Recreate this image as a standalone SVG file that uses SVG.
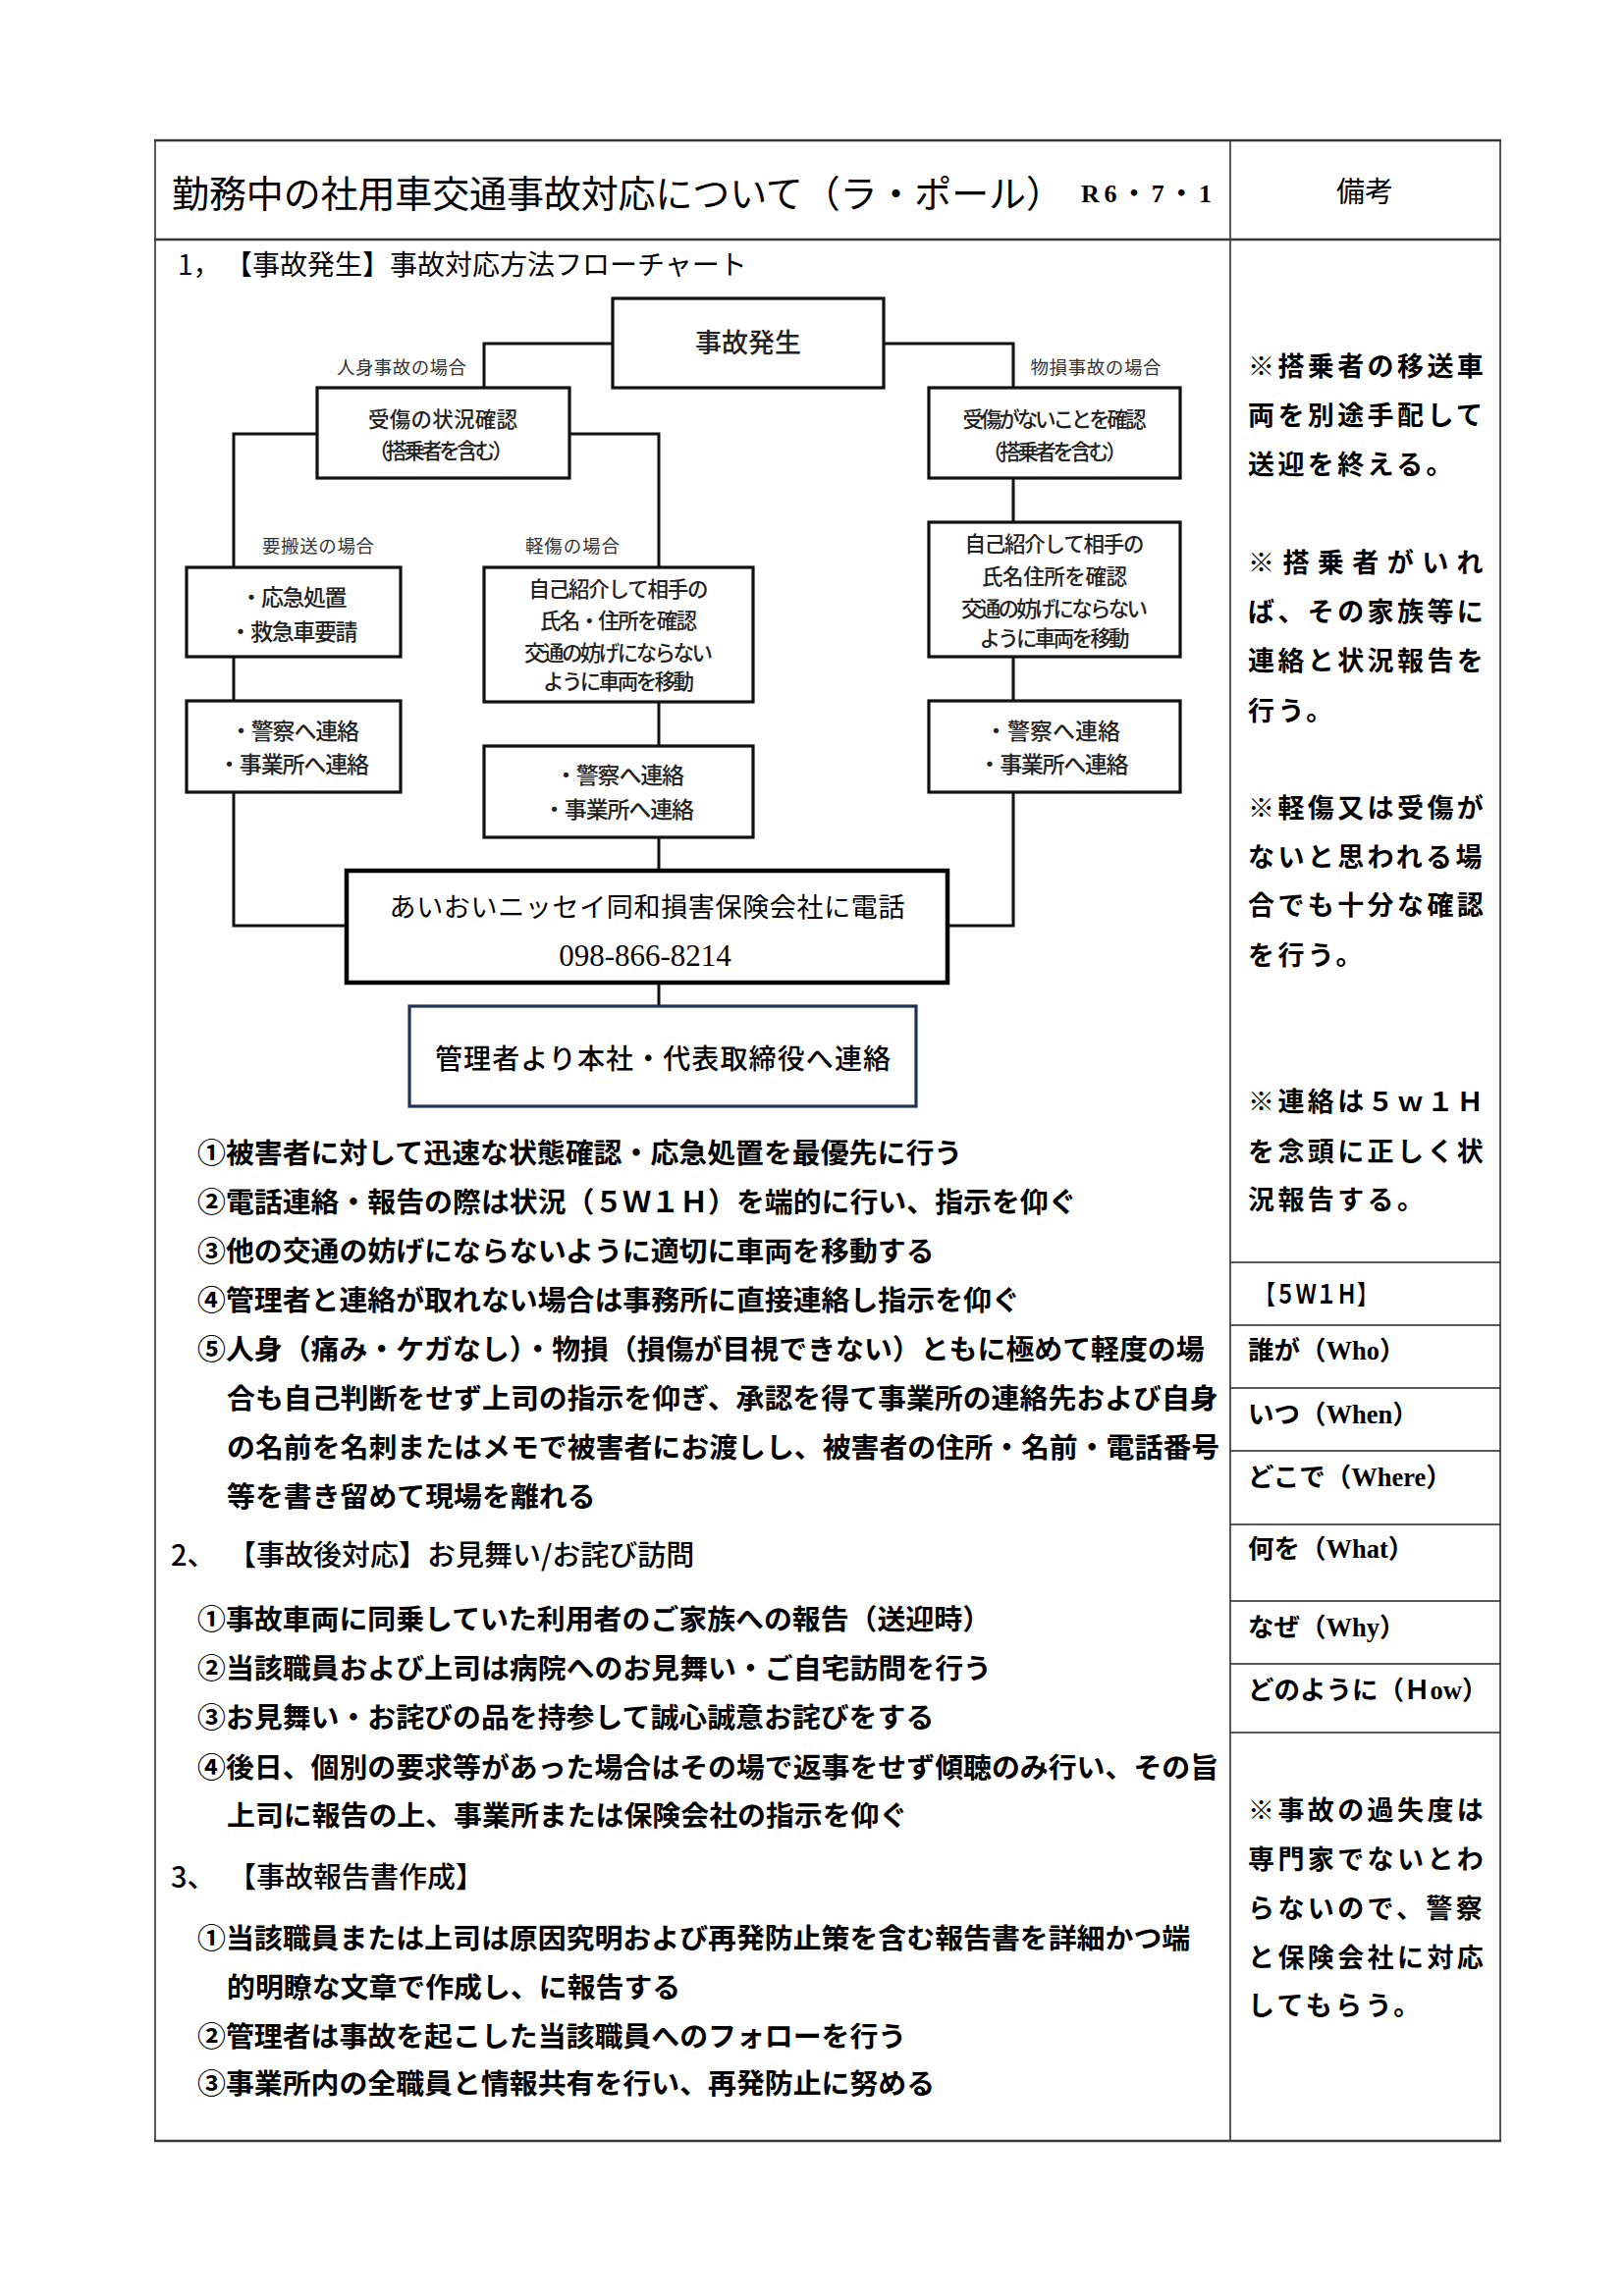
<svg xmlns="http://www.w3.org/2000/svg" width="1653" height="2339" viewBox="0 0 1653 2339">
<style>
text{font-family:"Noto Sans CJK JP",sans-serif;dominant-baseline:central;fill:#000}
.ser{font-family:"Liberation Serif","Noto Sans CJK JP",serif}
.box{fill:#fff;stroke:#111;stroke-width:3.2}
.conn{fill:none;stroke:#111;stroke-width:3}
.tbl{stroke:#222;stroke-width:1.5;fill:none}
.tblh{stroke:#3a3a3a;stroke-width:2.6;fill:none}
.lbl{font-size:18.5px;fill:#333;text-anchor:middle}
.bt{font-size:21.5px;font-weight:500;text-anchor:middle;fill:#222}
.bt2{font-size:23px;font-weight:500;text-anchor:middle;fill:#222}
.item{font-size:28.9px;font-weight:700}
.head{font-size:29px;font-weight:500}
.rem{font-size:27px;font-weight:700;letter-spacing:3.4px}
.w5{font-size:26.5px;font-weight:700}
</style>
<rect width="1653" height="2339" fill="#fff"/>

<g id="table">
<line class="tbl" x1="158" y1="143" x2="158" y2="2181"/>
<line class="tbl" x1="1253" y1="143" x2="1253" y2="2181"/>
<line class="tbl" x1="1528" y1="143" x2="1528" y2="2181"/>
<line class="tblh" x1="157" y1="143" x2="1529" y2="143"/>
<line class="tblh" x1="157" y1="244" x2="1529" y2="244"/>
<line class="tblh" x1="157" y1="2181" x2="1529" y2="2181"/>
<line class="tbl" x1="1253" y1="1286" x2="1528" y2="1286"/>
<line class="tbl" x1="1253" y1="1350" x2="1528" y2="1350"/>
<line class="tbl" x1="1253" y1="1414" x2="1528" y2="1414"/>
<line class="tbl" x1="1253" y1="1478" x2="1528" y2="1478"/>
<line class="tbl" x1="1253" y1="1553" x2="1528" y2="1553"/>
<line class="tbl" x1="1253" y1="1631" x2="1528" y2="1631"/>
<line class="tbl" x1="1253" y1="1695" x2="1528" y2="1695"/>
<line class="tbl" x1="1253" y1="1765" x2="1528" y2="1765"/>
</g>

<g id="header">
<text x="175" y="194" style="font-size:38px" textLength="908">勤務中の社用車交通事故対応について（ラ・ポール）</text>
<text class="ser" x="1101" y="197" style="font-size:26px;font-weight:700" textLength="133" lengthAdjust="spacing">R6・7・1</text>
<text x="1390" y="193" text-anchor="middle" style="font-size:29px">備考</text>
<text x="181" y="268" style="font-size:28px">1，<tspan x="229">【事故発生】事故対応方法フローチャート</tspan></text>
</g>

<g id="connectors">
<path class="conn" d="M624,350 H493 V395"/>
<path class="conn" d="M900,350 H1032 V395"/>
<path class="conn" d="M323,442 H238 V578"/>
<path class="conn" d="M580,442 H671 V578"/>
<path class="conn" d="M238,669 V714"/>
<path class="conn" d="M671,715 V760"/>
<path class="conn" d="M671,853 V887"/>
<path class="conn" d="M238,807 V943 H353"/>
<path class="conn" d="M1032,487 V532"/>
<path class="conn" d="M1032,669 V714"/>
<path class="conn" d="M1032,807 V943 H965"/>
<path class="conn" d="M671,1001 V1025"/>
</g>

<g id="edge-labels">
<text class="lbl" x="409" y="373" textLength="132">人身事故の場合</text>
<text class="lbl" x="1116" y="373" textLength="133">物損事故の場合</text>
<text class="lbl" x="324" y="555" textLength="114">要搬送の場合</text>
<text class="lbl" x="583" y="555" textLength="96">軽傷の場合</text>
</g>

<g id="n-accident">
<rect class="box" x="624" y="304" width="276" height="91"/>
<text x="762" y="347" text-anchor="middle" style="font-size:27px;font-weight:500;fill:#222">事故発生</text>
</g>
<g id="n-injury-check">
<rect class="box" x="323" y="395" width="257" height="92"/>
<text class="bt" x="451" y="425" textLength="152">受傷の状況確認</text>
<text class="bt" x="449" y="457" textLength="148">（搭乗者を含む）</text>
</g>
<g id="n-no-injury-check">
<rect class="box" x="946" y="395" width="256" height="92"/>
<text class="bt" x="1074" y="425" textLength="187">受傷がないことを確認</text>
<text class="bt" x="1074" y="458" textLength="148">（搭乗者を含む）</text>
</g>
<g id="n-emergency">
<rect class="box" x="190" y="578" width="218" height="91"/>
<text class="bt2" x="299" y="607" textLength="109">・応急処置</text>
<text class="bt2" x="299" y="642" textLength="131">・救急車要請</text>
</g>
<g id="n-light-intro">
<rect class="box" x="493" y="578" width="274" height="137"/>
<text class="bt" x="630" y="598" textLength="183">自己紹介して相手の</text>
<text class="bt" x="630" y="630" textLength="160">氏名・住所を確認</text>
<text class="bt" x="630" y="663" textLength="192">交通の妨げにならない</text>
<text class="bt" x="630" y="692" textLength="154">ように車両を移動</text>
</g>
<g id="n-property-intro">
<rect class="box" x="946" y="532" width="256" height="137"/>
<text class="bt" x="1074" y="552" textLength="183">自己紹介して相手の</text>
<text class="bt" x="1074" y="585" textLength="148">氏名住所を確認</text>
<text class="bt" x="1074" y="618" textLength="190">交通の妨げにならない</text>
<text class="bt" x="1074" y="648" textLength="153">ように車両を移動</text>
</g>
<g id="n-police-left">
<rect class="box" x="190" y="714" width="218" height="93"/>
<text class="bt2" x="300" y="743" textLength="132">・警察へ連絡</text>
<text class="bt2" x="299" y="777" textLength="154">・事業所へ連絡</text>
</g>
<g id="n-police-mid">
<rect class="box" x="493" y="760" width="274" height="93"/>
<text class="bt2" x="631" y="788" textLength="132">・警察へ連絡</text>
<text class="bt2" x="630" y="823" textLength="154">・事業所へ連絡</text>
</g>
<g id="n-police-right">
<rect class="box" x="946" y="714" width="256" height="93"/>
<text class="bt2" x="1072" y="743" textLength="138">・警察へ連絡</text>
<text class="bt2" x="1073" y="777" textLength="153">・事業所へ連絡</text>
</g>
<g id="n-insurance">
<rect x="353" y="887" width="612" height="114" fill="#fff" stroke="#000" stroke-width="4.5"/>
<text class="ser" x="659" y="925" text-anchor="middle" style="font-size:27px" textLength="525">あいおいニッセイ同和損害保険会社に電話</text>
<text class="ser" x="657" y="973" text-anchor="middle" style="font-size:31px">098-866-8214</text>
</g>
<g id="n-manager">
<rect x="417" y="1025" width="516" height="102" fill="#fff" stroke="#1f3255" stroke-width="3.2"/>
<text x="675" y="1077" text-anchor="middle" style="font-size:28px;font-weight:500" textLength="464">管理者より本社・代表取締役へ連絡</text>
</g>

<g id="section1-notes">
<text class="item" x="201" y="1172">①被害者に対して迅速な状態確認・応急処置を最優先に行う</text>
<text class="item" x="201" y="1222">②電話連絡・報告の際は状況（５Ｗ１Ｈ）を端的に行い、指示を仰ぐ</text>
<text class="item" x="201" y="1272">③他の交通の妨げにならないように適切に車両を移動する</text>
<text class="item" x="201" y="1322">④管理者と連絡が取れない場合は事務所に直接連絡し指示を仰ぐ</text>
<text class="item" x="201" y="1372">⑤人身（痛み・ケガなし）・物損（損傷が目視できない）ともに極めて軽度の場</text>
<text class="item" x="231" y="1422">合も自己判断をせず上司の指示を仰ぎ、承認を得て事業所の連絡先および自身</text>
<text class="item" x="231" y="1472">の名前を名刺またはメモで被害者にお渡しし、被害者の住所・名前・電話番号</text>
<text class="item" x="231" y="1522">等を書き留めて現場を離れる</text>
</g>

<g id="section2">
<text class="head" x="174" y="1582">2、<tspan x="232">【事故後対応】お見舞い/お詫び訪問</tspan></text>
<text class="item" x="201" y="1647">①事故車両に同乗していた利用者のご家族への報告（送迎時）</text>
<text class="item" x="201" y="1697">②当該職員および上司は病院へのお見舞い・ご自宅訪問を行う</text>
<text class="item" x="201" y="1747">③お見舞い・お詫びの品を持参して誠心誠意お詫びをする</text>
<text class="item" x="201" y="1798">④後日、個別の要求等があった場合はその場で返事をせず傾聴のみ行い、その旨</text>
<text class="item" x="231" y="1847">上司に報告の上、事業所または保険会社の指示を仰ぐ</text>
</g>

<g id="section3">
<text class="head" x="174" y="1910">3、<tspan x="232">【事故報告書作成】</tspan></text>
<text class="item" x="201" y="1972">①当該職員または上司は原因究明および再発防止策を含む報告書を詳細かつ端</text>
<text class="item" x="231" y="2022">的明瞭な文章で作成し、に報告する</text>
<text class="item" x="201" y="2072">②管理者は事故を起こした当該職員へのフォローを行う</text>
<text class="item" x="201" y="2120">③事業所内の全職員と情報共有を行い、再発防止に努める</text>
</g>

<g id="remarks">
<text class="rem" x="1271" y="371">※搭乗者の移送車</text>
<text class="rem" x="1271" y="421">両を別途手配して</text>
<text class="rem" x="1271" y="471">送迎を終える。</text>
<text class="rem" x="1271" y="571" textLength="243" lengthAdjust="spacing">※搭乗者がいれ</text>
<text class="rem" x="1271" y="621">ば、その家族等に</text>
<text class="rem" x="1271" y="671">連絡と状況報告を</text>
<text class="rem" x="1271" y="722">行う。</text>
<text class="rem" x="1271" y="821">※軽傷又は受傷が</text>
<text class="rem" x="1271" y="871">ないと思われる場</text>
<text class="rem" x="1271" y="920">合でも十分な確認</text>
<text class="rem" x="1271" y="971">を行う。</text>
<text class="rem" x="1271" y="1120">※連絡は５ｗ１Ｈ</text>
<text class="rem" x="1271" y="1171">を念頭に正しく状</text>
<text class="rem" x="1271" y="1220">況報告する。</text>
</g>

<g id="w5h1">
<text class="w5" x="1278" y="1316" textLength="125" lengthAdjust="spacingAndGlyphs">【５Ｗ１Ｈ】</text>
<text class="w5 ser" x="1271" y="1376">誰が（Who）</text>
<text class="w5 ser" x="1271" y="1441">いつ（When）</text>
<text class="w5 ser" x="1271" y="1505">どこで（Where）</text>
<text class="w5 ser" x="1271" y="1578">何を（What）</text>
<text class="w5 ser" x="1271" y="1658">なぜ（Why）</text>
<text class="w5 ser" x="1271" y="1722">どのように（Ｈow）</text>
</g>

<g id="remarks-bottom">
<text class="rem" x="1271" y="1842">※事故の過失度は</text>
<text class="rem" x="1271" y="1892">専門家でないとわ</text>
<text class="rem" x="1271" y="1942">らないので、警察</text>
<text class="rem" x="1271" y="1992">と保険会社に対応</text>
<text class="rem" x="1271" y="2041">してもらう。</text>
</g>
</svg>
